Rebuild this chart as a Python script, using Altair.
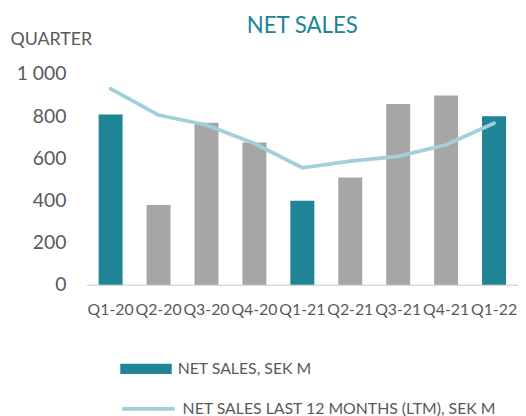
import altair as alt
import pandas as pd

quarters = ["Q1-20", "Q2-20", "Q3-20", "Q4-20", "Q1-21", "Q2-21", "Q3-21", "Q4-21", "Q1-22"]
net_sales = [808, 378, 769, 675, 398, 509, 858, 898, 799]
ltm_sales = [930, 805, 758, 670, 555, 586, 609, 664, 766]
bar_group = ["NET SALES, SEK M", "other", "other", "other", "NET SALES, SEK M",
             "other", "other", "other", "NET SALES, SEK M"]
ltm_label = "NET SALES LAST 12 MONTHS (LTM), SEK M"

TEAL = "#1f8496"
GRAY = "#a6a6a6"
LINE = "#a1d0dc"
TEXT = "#595959"
FONT = "Lato"

df = pd.DataFrame({
    "quarter": quarters,
    "sales": net_sales,
    "ltm": ltm_sales,
    "group": bar_group,
    "series": [ltm_label] * len(quarters),
})

x_enc = alt.X(
    "quarter:N",
    sort=quarters,
    scale=alt.Scale(paddingInner=0.5, paddingOuter=0.25),
    axis=alt.Axis(
        title=None, labelAngle=0, ticks=False, domainColor="#d9d9d9", domainWidth=1.5,
        labelFont=FONT, labelFontSize=16, labelColor=TEXT, labelPadding=17,
        labelOverlap=False, labelBound=False,
    ),
)

y_scale = alt.Scale(domain=[0, 1000], nice=False)

bars = alt.Chart(df).mark_bar().encode(
    x=x_enc,
    y=alt.Y(
        "sales:Q",
        scale=y_scale,
        axis=alt.Axis(
            values=[0, 200, 400, 600, 800, 1000], grid=False, domain=False, ticks=False,
            labelPadding=21, labelFont=FONT, labelFontSize=19.5, labelColor=TEXT,
            labelExpr="replace(format(datum.value, ','), ',', ' ')",
            title="QUARTER", titleAngle=0, titleAlign="left", titleBaseline="alphabetic",
            titleX=-77.5, titleY=-30, titleFont=FONT, titleFontSize=18,
            titleFontWeight="normal", titleColor=TEXT,
        ),
    ),
    fill=alt.Fill(
        "group:N",
        scale=alt.Scale(domain=["NET SALES, SEK M", "other"], range=[TEAL, GRAY]),
        legend=alt.Legend(
            values=["NET SALES, SEK M"], title=None, orient="none", legendX=34, legendY=272,
            symbolType="M-1,-0.2H1V0.2H-1Z", symbolSize=2704, symbolStrokeWidth=0,
            labelFont=FONT, labelFontSize=16, labelColor=TEXT, labelOffset=6,
            padding=0, labelLimit=400,
        ),
    ),
)

line = alt.Chart(df).mark_line(strokeWidth=3.8, strokeCap="round").encode(
    x=alt.X("quarter:N", sort=quarters),
    y=alt.Y("ltm:Q", scale=y_scale),
    stroke=alt.Stroke(
        "series:N",
        scale=alt.Scale(domain=[ltm_label], range=[LINE]),
        legend=alt.Legend(
            title=None, orient="none", legendX=34, legendY=310,
            symbolType="stroke", symbolSize=2809, symbolStrokeWidth=3.8,
            labelFont=FONT, labelFontSize=16, labelColor=TEXT, labelOffset=6,
            padding=0, labelLimit=400,
        ),
    ),
)

chart = alt.layer(bars, line).resolve_scale(x="shared").properties(
    width=436,
    height=213,
    autosize=alt.AutoSizeParams(type="none"),
    padding={"left": 79.5, "top": 64.5, "right": 0, "bottom": 131},
    title=alt.TitleParams(
        "NET SALES", anchor="middle", font=FONT, fontSize=22.5, fontWeight="normal",
        color=TEAL, dy=11,
    ),
).configure_view(stroke=None)

chart.save("out.html", embed_options={"renderer": "svg", "actions": False})
